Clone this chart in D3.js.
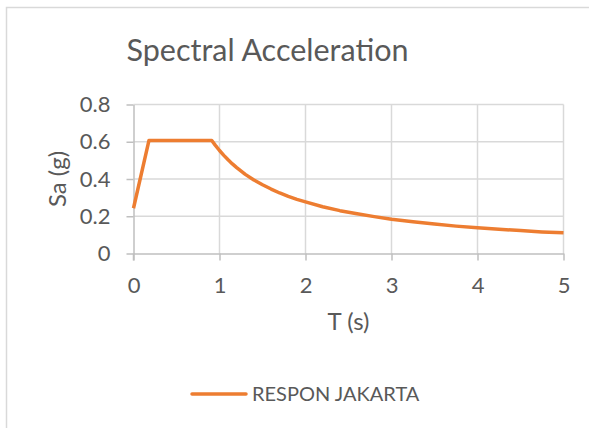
<!DOCTYPE html>
<html>
<head>
<meta charset="utf-8">
<script src="https://cdn.jsdelivr.net/npm/d3@7"></script>
<style>
  html, body { margin: 0; padding: 0; background: #fff; }
  svg { display: block; }
</style>
</head>
<body>
<svg id="chart" width="589" height="428"></svg>
<script>
// Respon spektrum Jakarta
const periods = [0, 0.18, 0.91, 0.95, 1.0, 1.05, 1.1, 1.15, 1.2, 1.3, 1.4, 1.5, 1.6, 1.7, 1.8, 1.9, 2.0,
  2.2, 2.4, 2.6, 2.8, 3.0, 3.25, 3.5, 3.75, 4.0, 4.25, 4.5, 4.75, 5.0];
const saValues = [0.243, 0.607, 0.607, 0.582, 0.553, 0.527, 0.503, 0.481, 0.461, 0.425, 0.395, 0.369, 0.346, 0.325, 0.307, 0.291, 0.277,
  0.251, 0.230, 0.213, 0.198, 0.184, 0.170, 0.158, 0.147, 0.138, 0.130, 0.123, 0.116, 0.111];
const xTicks = [0, 1, 2, 3, 4, 5];
const yTicks = [0, 0.2, 0.4, 0.6, 0.8];
const seriesName = "RESPON JAKARTA";

const svg = d3.select("#chart");
const font = "Lato, 'Open Sans', sans-serif";
const textColor = "#595959";
const orange = "#ED7D31";

// chart border (runs off the right and bottom of the page)
svg.append("rect")
    .attr("x", 6.5).attr("y", 7.5)
    .attr("width", 700).attr("height", 500)
    .attr("fill", "#fff")
    .attr("stroke", "#d9d9d9")
    .attr("stroke-width", 1.5);

const x = d3.scaleLinear().domain([0, 5]).range([133.5, 563.5]);
const y = d3.scaleLinear().domain([0, 0.8]).range([253.5, 104.5]);

// gridlines
svg.append("g")
    .selectAll("line")
    .data(yTicks.filter(d => d > 0))
    .join("line")
    .attr("x1", x(0)).attr("x2", x(5))
    .attr("y1", d => y(d)).attr("y2", d => y(d))
    .attr("stroke", "#d9d9d9").attr("stroke-width", 1.5);

svg.append("g")
    .selectAll("line")
    .data(xTicks.filter(d => d > 0))
    .join("line")
    .attr("x1", d => x(d)).attr("x2", d => x(d))
    .attr("y1", y(0)).attr("y2", y(0.8))
    .attr("stroke", "#d9d9d9").attr("stroke-width", 1.5);

// axes
const xAxis = svg.append("g")
    .attr("transform", `translate(0,${y(0)})`)
    .call(d3.axisBottom(x).tickValues(xTicks).tickFormat(d3.format("d"))
        .tickSizeInner(7).tickSizeOuter(0).tickPadding(17));

const yAxis = svg.append("g")
    .attr("transform", `translate(${x(0)},0)`)
    .call(d3.axisLeft(y).tickValues(yTicks).tickFormat(d => d === 0 ? "0" : d3.format(".1f")(d))
        .tickSizeInner(7).tickSizeOuter(0).tickPadding(16));

[xAxis, yAxis].forEach(a => {
    a.select(".domain").attr("stroke", "#bfbfbf").attr("stroke-width", 1.5);
    a.selectAll(".tick line").attr("stroke", "#bfbfbf").attr("stroke-width", 1.5);
    a.selectAll(".tick text")
        .attr("fill", textColor)
        .style("font-family", font)
        .style("font-size", "22px");
});
// y axis line also runs down to the x tick length
svg.append("line")
    .attr("x1", x(0)).attr("x2", x(0))
    .attr("y1", y(0)).attr("y2", y(0) + 7)
    .attr("stroke", "#bfbfbf").attr("stroke-width", 1.5);

// series line
const line = d3.line()
    .x((d, i) => x(periods[i]))
    .y(d => y(d));

svg.append("path")
    .datum(saValues)
    .attr("d", line)
    .attr("fill", "none")
    .attr("stroke", orange)
    .attr("stroke-width", 3.5)
    .attr("stroke-linejoin", "round");

// title
svg.append("text")
    .attr("x", 267.5).attr("y", 61)
    .attr("text-anchor", "middle")
    .attr("fill", textColor)
    .style("font-family", font)
    .style("font-size", "30.5px")
    .text("Spectral Acceleration");

// axis titles
svg.append("text")
    .attr("transform", `translate(66,${(y(0) + y(0.8)) / 2}) rotate(-90)`)
    .attr("text-anchor", "middle")
    .attr("fill", textColor)
    .style("font-family", font)
    .style("font-size", "24px")
    .text("Sa (g)");

svg.append("text")
    .attr("x", (x(0) + x(5)) / 2).attr("y", 330)
    .attr("text-anchor", "middle")
    .attr("fill", textColor)
    .style("font-family", font)
    .style("font-size", "24px")
    .text("T (s)");

// legend
svg.append("line")
    .attr("x1", 192).attr("x2", 246)
    .attr("y1", 394).attr("y2", 394)
    .attr("stroke", orange)
    .attr("stroke-width", 3.5)
    .attr("stroke-linecap", "round");

svg.append("text")
    .attr("x", 252).attr("y", 401)
    .attr("fill", textColor)
    .style("font-family", font)
    .style("font-size", "20px")
    .text(seriesName);
</script>
</body>
</html>
